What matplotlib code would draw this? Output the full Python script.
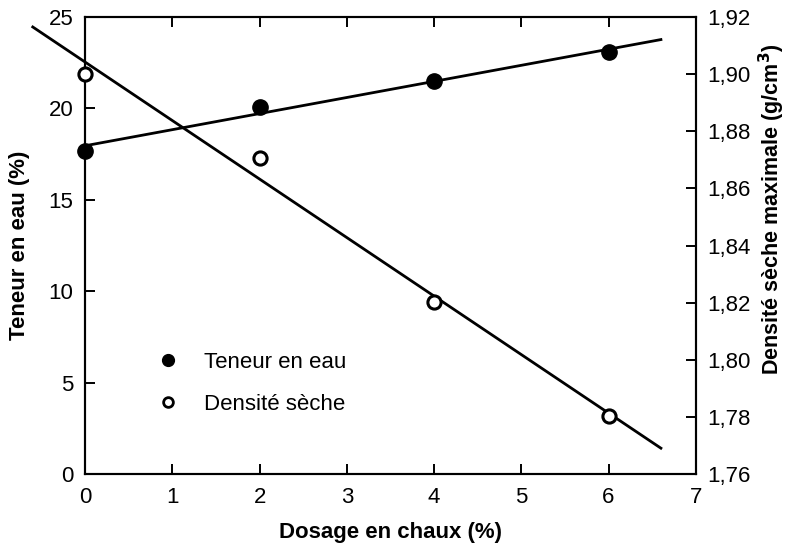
import numpy as np
import matplotlib
matplotlib.use("Agg")
import matplotlib.pyplot as plt
from matplotlib.ticker import FuncFormatter
from matplotlib.lines import Line2D

plt.rcParams["font.family"] = ["Liberation Sans", "DejaVu Sans"]

dosage = [0, 2, 4, 6]
teneur_eau = [17.7, 20.1, 21.5, 23.1]
densite = [1.900, 1.8707, 1.8202, 1.7803]

fig = plt.figure(figsize=(7.88, 5.5), dpi=100)
ax = fig.add_axes([0.108, 0.138, 0.775, 0.831])
ax2 = ax.twinx()

# trend lines (linear fit)
z1 = np.polyfit(dosage, teneur_eau, 1)
x1 = np.array([0, 6.6])
ax.plot(x1, np.polyval(z1, x1), color="black", lw=2.0, clip_on=False)

z2 = np.polyfit(dosage, densite, 1)
x2 = np.array([-0.6, 6.6])
ax2.plot(x2, np.polyval(z2, x2), color="black", lw=2.0, clip_on=False)

ax.plot(dosage, teneur_eau, "o", color="black", ms=11, clip_on=False, zorder=5)
ax2.plot(dosage, densite, "o", mfc="white", mec="black", mew=2.2, ms=9.5,
         clip_on=False, zorder=5)

ax.set_xlim(0, 7)
ax.set_ylim(0, 25)
ax2.set_ylim(1.76, 1.92)
ax.set_xticks(range(0, 8))
ax.set_yticks(range(0, 26, 5))
ax2.set_yticks(np.arange(1.76, 1.9201, 0.02))
ax2.yaxis.set_major_formatter(FuncFormatter(lambda v, p: f"{v:.2f}".replace(".", ",")))

for a in (ax, ax2):
    a.tick_params(direction="in", length=7, width=1.4, labelsize=16, pad=8.5)
    for s in a.spines.values():
        s.set_linewidth(1.5)
ax.tick_params(top=True)
ax.tick_params(axis="x", pad=9)

ax.set_xlabel("Dosage en chaux (%)", fontsize=16, fontweight="bold")
ax.set_ylabel("Teneur en eau (%)", fontsize=16, fontweight="bold")
ax2.set_ylabel("Densité sèche maximale (g/cm$^{\\mathbf{3}}$)", fontsize=15.5,
               fontweight="bold")
ax.xaxis.set_label_coords(0.5, -0.105)
ax.yaxis.set_label_coords(-0.09, 0.5)
ax2.yaxis.set_label_coords(1.1, 0.58)

handles = [
    Line2D([], [], ls="none", marker="o", color="black", ms=8.5),
    Line2D([], [], ls="none", marker="o", mfc="white", mec="black", mew=2, ms=7),
]
ax.legend(handles, ["Teneur en eau", "Densité sèche"], loc=(0.085, 0.11),
          frameon=False, fontsize=16, handletextpad=0.6, labelspacing=0.95)

fig.savefig("out.png", dpi=100)
